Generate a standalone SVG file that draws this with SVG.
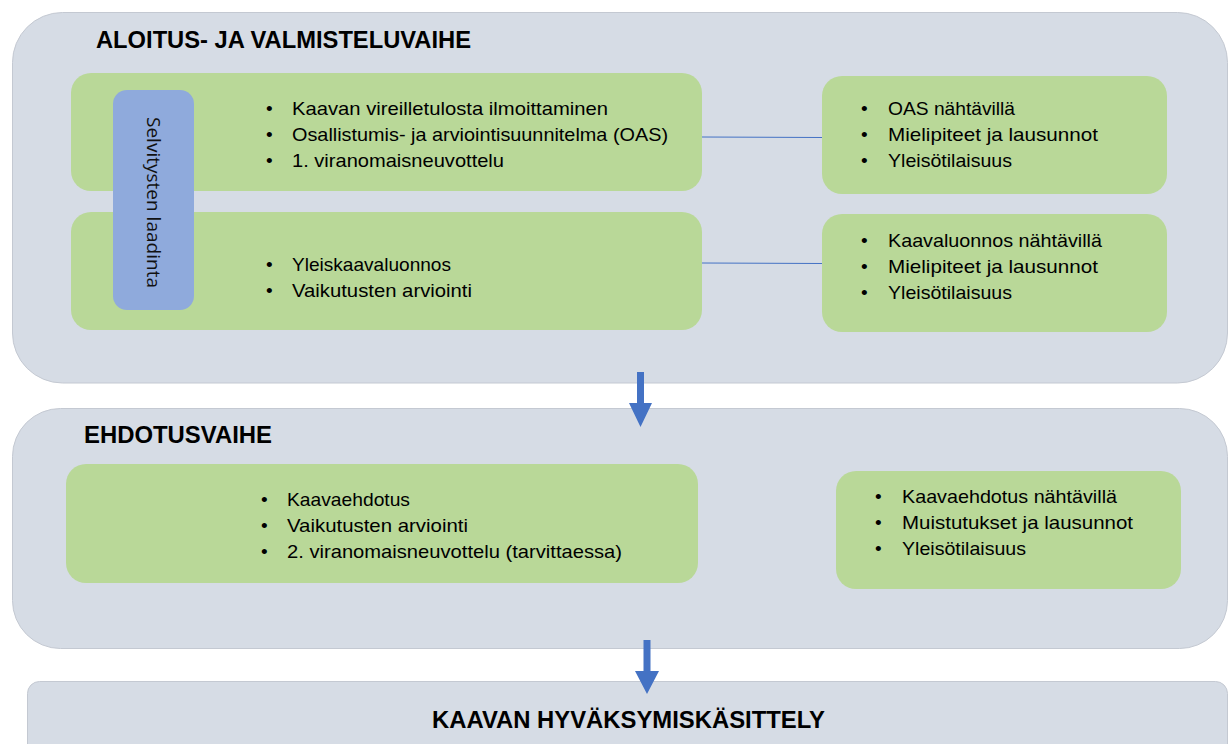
<svg xmlns="http://www.w3.org/2000/svg" width="1230" height="744" viewBox="0 0 1230 744">
<style>
.phase{fill:#D6DCE5;stroke:#C4C9D2;stroke-width:1}
.green{fill:#B9D898}
.blue{fill:#8FAADC}
.title{font-family:"Liberation Sans",Arial,sans-serif;font-weight:bold;font-size:24px;fill:#000}
.t{font-family:"Liberation Sans",Arial,sans-serif;font-size:19px;fill:#000}
.vt{font-family:"Open Sans","Liberation Sans",sans-serif;font-size:18px;fill:#111}
.conn{stroke:#4472C4;stroke-width:1;fill:none}
.arrow{fill:#4472C4}
</style>
<g id="phase1">
<rect class="phase" x="12.500" y="12.500" width="1215" height="370.500" rx="50" ry="50"/>
<text class="title" x="96" y="48" textLength="375" lengthAdjust="spacingAndGlyphs">ALOITUS- JA VALMISTELUVAIHE</text>
</g>
<g id="phase2">
<rect class="phase" x="12.500" y="408.500" width="1215" height="240" rx="48" ry="48"/>
<text class="title" x="84" y="443" textLength="188" lengthAdjust="spacingAndGlyphs">EHDOTUSVAIHE</text>
</g>
<g id="phase3">
<rect class="phase" x="27.500" y="681.500" width="1200" height="90" rx="12" ry="12"/>
<text class="title" x="432" y="728" textLength="393" lengthAdjust="spacingAndGlyphs">KAAVAN HYVÄKSYMISKÄSITTELY</text>
</g>
<g id="connectors">
<line class="conn" x1="702" y1="137" x2="822" y2="137.500"/>
<line class="conn" x1="702" y1="263" x2="822" y2="263.500"/>
<polygon class="arrow" points="637,372 644,372 644,403 652,403 640.500,427 629,403 637,403"/>
<polygon class="arrow" points="643.500,640 650.500,640 650.500,671 659,671 647,694 635,671 643.500,671"/>
</g>
<g id="box1a">
<rect class="green" x="71" y="73" width="631" height="118" rx="20" ry="20"/>
<text class="t" x="266" y="115">•</text>
<text class="t" x="292" y="115" textLength="316" lengthAdjust="spacingAndGlyphs">Kaavan vireilletulosta ilmoittaminen</text>
<text class="t" x="266" y="141">•</text>
<text class="t" x="292" y="141" textLength="376" lengthAdjust="spacingAndGlyphs">Osallistumis- ja arviointisuunnitelma (OAS)</text>
<text class="t" x="266" y="167">•</text>
<text class="t" x="292" y="167" textLength="212" lengthAdjust="spacingAndGlyphs">1. viranomaisneuvottelu</text>
</g>
<g id="box1b">
<rect class="green" x="71" y="212" width="631" height="118" rx="20" ry="20"/>
<text class="t" x="266" y="271">•</text>
<text class="t" x="292" y="271" textLength="159" lengthAdjust="spacingAndGlyphs">Yleiskaavaluonnos</text>
<text class="t" x="266" y="297">•</text>
<text class="t" x="292" y="297" textLength="180" lengthAdjust="spacingAndGlyphs">Vaikutusten arviointi</text>
</g>
<g id="selvitykset">
<rect class="blue" x="113" y="90" width="81" height="220" rx="14" ry="14"/>
<text class="vt" transform="translate(147,117) rotate(90)" textLength="171" lengthAdjust="spacingAndGlyphs">Selvitysten laadinta</text>
</g>
<g id="box1c">
<rect class="green" x="822" y="76" width="345" height="118" rx="20" ry="20"/>
<text class="t" x="861" y="115">•</text>
<text class="t" x="888" y="115" textLength="127" lengthAdjust="spacingAndGlyphs">OAS nähtävillä</text>
<text class="t" x="861" y="141">•</text>
<text class="t" x="888" y="141" textLength="210" lengthAdjust="spacingAndGlyphs">Mielipiteet ja lausunnot</text>
<text class="t" x="861" y="167">•</text>
<text class="t" x="888" y="167" textLength="124" lengthAdjust="spacingAndGlyphs">Yleisötilaisuus</text>
</g>
<g id="box1d">
<rect class="green" x="822" y="214" width="345" height="118" rx="20" ry="20"/>
<text class="t" x="861" y="247">•</text>
<text class="t" x="888" y="247" textLength="214" lengthAdjust="spacingAndGlyphs">Kaavaluonnos nähtävillä</text>
<text class="t" x="861" y="273">•</text>
<text class="t" x="888" y="273" textLength="210" lengthAdjust="spacingAndGlyphs">Mielipiteet ja lausunnot</text>
<text class="t" x="861" y="299">•</text>
<text class="t" x="888" y="299" textLength="124" lengthAdjust="spacingAndGlyphs">Yleisötilaisuus</text>
</g>
<g id="box2a">
<rect class="green" x="66" y="464" width="632" height="119" rx="20" ry="20"/>
<text class="t" x="261" y="506">•</text>
<text class="t" x="287" y="506" textLength="123" lengthAdjust="spacingAndGlyphs">Kaavaehdotus</text>
<text class="t" x="261" y="532">•</text>
<text class="t" x="287" y="532" textLength="181" lengthAdjust="spacingAndGlyphs">Vaikutusten arviointi</text>
<text class="t" x="261" y="558">•</text>
<text class="t" x="287" y="558" textLength="335" lengthAdjust="spacingAndGlyphs">2. viranomaisneuvottelu (tarvittaessa)</text>
</g>
<g id="box2b">
<rect class="green" x="836" y="471" width="345" height="118" rx="20" ry="20"/>
<text class="t" x="875" y="503">•</text>
<text class="t" x="902" y="503" textLength="215" lengthAdjust="spacingAndGlyphs">Kaavaehdotus nähtävillä</text>
<text class="t" x="875" y="529">•</text>
<text class="t" x="902" y="529" textLength="231" lengthAdjust="spacingAndGlyphs">Muistutukset ja lausunnot</text>
<text class="t" x="875" y="555">•</text>
<text class="t" x="902" y="555" textLength="124" lengthAdjust="spacingAndGlyphs">Yleisötilaisuus</text>
</g>
</svg>
